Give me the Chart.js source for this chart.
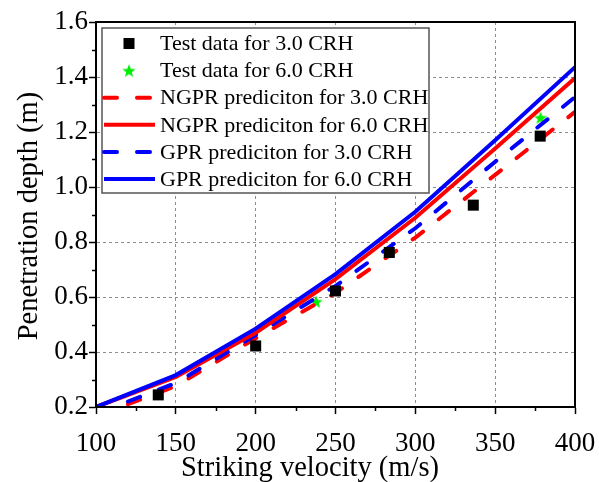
<!DOCTYPE html>
<html>
<head>
<meta charset="utf-8">
<script src="https://cdn.jsdelivr.net/npm/chart.js@4.4.1/dist/chart.umd.min.js"></script>
<style>
  html, body { margin: 0; padding: 0; background: #ffffff; }
  #c { display: block; }
</style>
</head>
<body>
<canvas id="c" width="599" height="482"></canvas>
<script>
// ---- Data ----
const testVel3 = [139, 200, 250, 283.7, 336.3, 378.2];
const testDepth3 = [0.244, 0.422, 0.622, 0.762, 0.934, 1.185];
const testVel6 = [237.8, 378.4];
const testDepth6 = [0.583, 1.252];

const predVelSolid = [100, 150, 200, 250, 300, 350, 400];
const ngpr6 = [0.2, 0.309, 0.470, 0.665, 0.888, 1.140, 1.396];
const gpr6 = [0.2, 0.316, 0.485, 0.683, 0.910, 1.170, 1.436];

const predVelDash = [120, 150, 200, 250, 300, 350, 400];
const ngpr3 = [0.210, 0.276, 0.450, 0.615, 0.816, 1.044, 1.273];
const gpr3 = [0.220, 0.287, 0.462, 0.640, 0.850, 1.092, 1.327];

const xTicks = [100, 150, 200, 250, 300, 350, 400];
const yTicks = [0.2, 0.4, 0.6, 0.8, 1.0, 1.2, 1.4, 1.6];

const labels = [
  'Test data for 3.0 CRH',
  'Test data for 6.0 CRH',
  'NGPR prediciton for 3.0 CRH',
  'NGPR prediciton for 6.0 CRH',
  'GPR prediciton for 3.0 CRH',
  'GPR prediciton for 6.0 CRH'
];
const xTitle = 'Striking velocity (m/s)';
const yTitle = 'Penetration depth (m)';

// ---- helpers ----
const pts = (xs, ys) => xs.map((x, i) => ({x: x, y: ys[i]}));
const FONT = "'Liberation Serif', 'Times New Roman', serif";
const RED = '#ff0000', BLUE = '#0000ff', GREEN = '#00ee00';
const DASH = [13, 20];

function makeStar(size, color) {
  const cv = document.createElement('canvas');
  cv.width = size; cv.height = size;
  const g = cv.getContext('2d');
  const cx = size / 2, cy = size / 2 + 0.6, R = size / 2, r = R * 0.42;
  g.beginPath();
  for (let i = 0; i < 10; i++) {
    const a = -Math.PI / 2 + i * Math.PI / 5;
    const rr = i % 2 === 0 ? R : r;
    const px = cx + rr * Math.cos(a), py = cy + rr * Math.sin(a);
    if (i === 0) g.moveTo(px, py); else g.lineTo(px, py);
  }
  g.closePath();
  g.fillStyle = color;
  g.fill();
  return cv;
}
const starImg = makeStar(14, GREEN);

const datasets = [
  { label: labels[0], data: pts(testVel3, testDepth3), showLine: false,
    pointStyle: 'rect', pointRadius: 7.8, pointHoverRadius: 7.8,
    backgroundColor: '#000', borderColor: '#000', borderWidth: 0, order: 0 },
  { label: labels[1], data: pts(testVel6, testDepth6), showLine: false,
    pointStyle: starImg, pointRadius: 7, backgroundColor: GREEN, borderColor: GREEN, order: 6 },
  { label: labels[2], data: pts(predVelDash, ngpr3), showLine: true, pointRadius: 0,
    borderColor: RED, backgroundColor: RED, borderWidth: 4, borderDash: DASH,
    borderCapStyle: 'round', order: 5 },
  { label: labels[3], data: pts(predVelSolid, ngpr6), showLine: true, pointRadius: 0,
    borderColor: RED, backgroundColor: RED, borderWidth: 4, order: 3 },
  { label: labels[4], data: pts(predVelDash, gpr3), showLine: true, pointRadius: 0,
    borderColor: BLUE, backgroundColor: BLUE, borderWidth: 4, borderDash: DASH,
    borderCapStyle: 'round', order: 4 },
  { label: labels[5], data: pts(predVelSolid, gpr6), showLine: true, pointRadius: 0,
    borderColor: BLUE, backgroundColor: BLUE, borderWidth: 4, order: 2 }
];

const decor = {
  id: 'decor',
  afterDraw(chart) {
    const ctx = chart.ctx;
    const a = chart.chartArea;
    const xs = chart.scales.x, ys = chart.scales.y;
    ctx.save();
    // minor ticks
    ctx.strokeStyle = '#000';
    ctx.lineWidth = 1.5;
    for (let i = 0; i < xTicks.length - 1; i++) {
      const v = (xTicks[i] + xTicks[i + 1]) / 2;
      const px = Math.round(xs.getPixelForValue(v)) + 0.5;
      ctx.beginPath(); ctx.moveTo(px, a.bottom); ctx.lineTo(px, a.bottom + 4); ctx.stroke();
    }
    for (let i = 0; i < yTicks.length - 1; i++) {
      const v = (yTicks[i] + yTicks[i + 1]) / 2;
      const py = Math.round(ys.getPixelForValue(v)) + 0.5;
      ctx.beginPath(); ctx.moveTo(a.left, py); ctx.lineTo(a.left - 4, py); ctx.stroke();
    }
    // frame
    ctx.lineWidth = 2;
    ctx.strokeStyle = '#000';
    ctx.strokeRect(a.left, a.top, a.right - a.left, a.bottom - a.top);

    // legend
    const lx = 102, ly = 28, lw = 327, lh = 165;
    ctx.fillStyle = '#fff';
    ctx.fillRect(lx, ly, lw, lh);
    ctx.lineWidth = 1.5;
    ctx.strokeStyle = '#555';
    ctx.strokeRect(lx, ly, lw, lh);
    const rowY0 = 43.5, rowH = 27.1;
    ctx.font = '22px ' + FONT;
    ctx.textBaseline = 'middle';
    ctx.textAlign = 'left';
    chart.data.datasets.forEach((ds, i) => {
      const y = rowY0 + i * rowH;
      if (ds.showLine) {
        ctx.save();
        ctx.strokeStyle = ds.borderColor;
        ctx.lineWidth = ds.borderWidth;
        ctx.lineCap = ds.borderDash ? 'round' : 'butt';
        ctx.setLineDash(ds.borderDash || []);
        ctx.beginPath(); ctx.moveTo(104, y); ctx.lineTo(155, y); ctx.stroke();
        ctx.restore();
      } else if (ds.pointStyle === 'rect') {
        const s = 11;
        ctx.fillStyle = ds.backgroundColor;
        ctx.fillRect(129 - s / 2, y - s / 2, s, s);
      } else {
        ctx.drawImage(ds.pointStyle, 129 - 7, y - 7, 14, 14);
      }
      ctx.fillStyle = '#000';
      ctx.fillText(ds.label, 160, y + 1);
    });

    // axis titles
    ctx.fillStyle = '#000';
    ctx.font = '28.5px ' + FONT;
    ctx.textAlign = 'center';
    ctx.textBaseline = 'alphabetic';
    ctx.fillText(xTitle, 310, 476);
    ctx.save();
    ctx.translate(37, 216);
    ctx.rotate(-Math.PI / 2);
    ctx.fillText(yTitle, 0, 0);
    ctx.restore();
    ctx.restore();
  }
};

new Chart(document.getElementById('c'), {
  type: 'scatter',
  data: { datasets: datasets },
  plugins: [decor],
  options: {
    responsive: false,
    animation: false,
    events: [],
    layout: { padding: { top: 22, right: 24, left: 0, bottom: 0 } },
    plugins: { legend: { display: false }, tooltip: { enabled: false }, title: { display: false } },
    scales: {
      x: {
        type: 'linear', min: 100, max: 400,
        afterBuildTicks: (s) => { s.ticks = xTicks.map(v => ({value: v})); },
        afterFit: (s) => { s.height = 75; s.paddingLeft = 0; s.paddingRight = 0; },
        ticks: { color: '#000', padding: 14, maxRotation: 0,
                 font: { family: FONT, size: 27 }, callback: (v) => String(v) },
        grid: { color: '#8c8c8c', lineWidth: 1, tickColor: '#000', tickWidth: 1.5, tickLength: 7 },
        border: { display: true, color: '#000', width: 2, dash: [3, 3] }
      },
      y: {
        type: 'linear', min: 0.2, max: 1.6,
        afterBuildTicks: (s) => { s.ticks = yTicks.map(v => ({value: v})); },
        afterFit: (s) => { s.width = 96; s.paddingTop = 0; s.paddingBottom = 0; },
        ticks: { color: '#000', padding: 1,
                 font: { family: FONT, size: 27 }, callback: (v) => Number(v).toFixed(1) },
        grid: { color: '#8c8c8c', lineWidth: 1, tickColor: '#000', tickWidth: 1.5, tickLength: 7 },
        border: { display: true, color: '#000', width: 2, dash: [3, 3] }
      }
    }
  }
});
</script>
</body>
</html>
